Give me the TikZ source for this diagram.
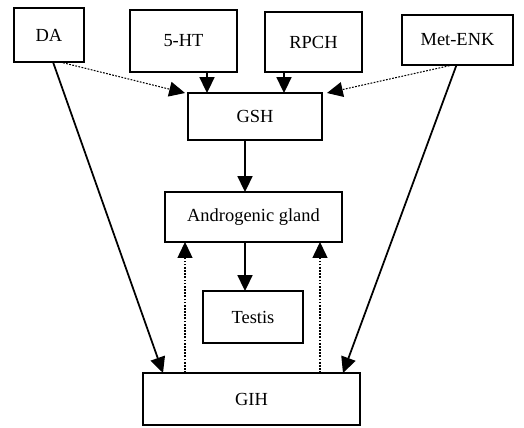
\documentclass[tikz,border=0pt]{standalone}
\usepackage{fontspec}
\setmainfont{Liberation Serif}
\usetikzlibrary{arrows.meta}
\begin{document}
\begin{tikzpicture}[x=0.02cm, y=-0.02cm, font=\fontsize{10.5}{12}\selectfont, every node/.style={draw, line width=1pt, inner sep=0pt, outer sep=0pt}, solidarr/.style={line width=1pt, -{Triangle[length=9pt, width=8.5pt]}}, dotarr/.style={line width=0.6pt, dash pattern=on 1pt off 0.8pt, -{Triangle[length=9pt, width=8.5pt]}}]
        \useasboundingbox (0, 0) rectangle (524, 427);
        \node[minimum width=1.4cm, minimum height=1.08cm] (da) at (49, 35) {DA};
        \node[minimum width=2.14cm, minimum height=1.24cm] (hta) at (183.5, 41) {5-HT};
        \node[minimum width=1.94cm, minimum height=1.2cm] (rpch) at (313.5, 42) {RPCH};
        \node[minimum width=2.22cm, minimum height=1cm] (metenk) at (457.5, 40) {Met-ENK};
        \node[minimum width=2.68cm, minimum height=0.94cm] (gsh) at (255, 116.5) {GSH};
        \node[minimum width=3.54cm, minimum height=1cm] (ag) at (253.5, 217) {Androgenic gland};
        \node[minimum width=2cm, minimum height=1.04cm] (testis) at (253, 317) {Testis};
        \node[minimum width=4.34cm, minimum height=1.04cm] (gih) at (251.5, 399) {GIH};
        \coordinate (c1) at (207, 0);
        \coordinate (c2) at (284, 0);
        \coordinate (c3) at (245, 0);
        \coordinate (c4) at (185, 0);
        \coordinate (c5) at (320, 0);
        \draw[solidarr] (hta.south -| c1) -- (gsh.north -| c1);
        \draw[solidarr] (rpch.south -| c2) -- (gsh.north -| c2);
        \draw[solidarr] (gsh.south -| c3) -- (ag.north -| c3);
        \draw[solidarr] (ag.south -| c3) -- (testis.north -| c3);
        \draw[dotarr] ([xshift=0.22cm]da.south) -- ([xshift=-0.06cm]gsh.north west);
        \draw[dotarr] ([xshift=-0.1cm]metenk.south) -- ([xshift=0.1cm]gsh.north east);
        \draw[solidarr] ([xshift=0.08cm]da.south) -- ([xshift=0.4cm]gih.north west);
        \draw[solidarr] ([xshift=-0.02cm]metenk.south) -- ([xshift=-0.34cm]gih.north east);
        \draw[dotarr] (gih.north -| c4) -- (ag.south -| c4);
        \draw[dotarr] (gih.north -| c5) -- (ag.south -| c5);
    \end{tikzpicture}
\end{document}
